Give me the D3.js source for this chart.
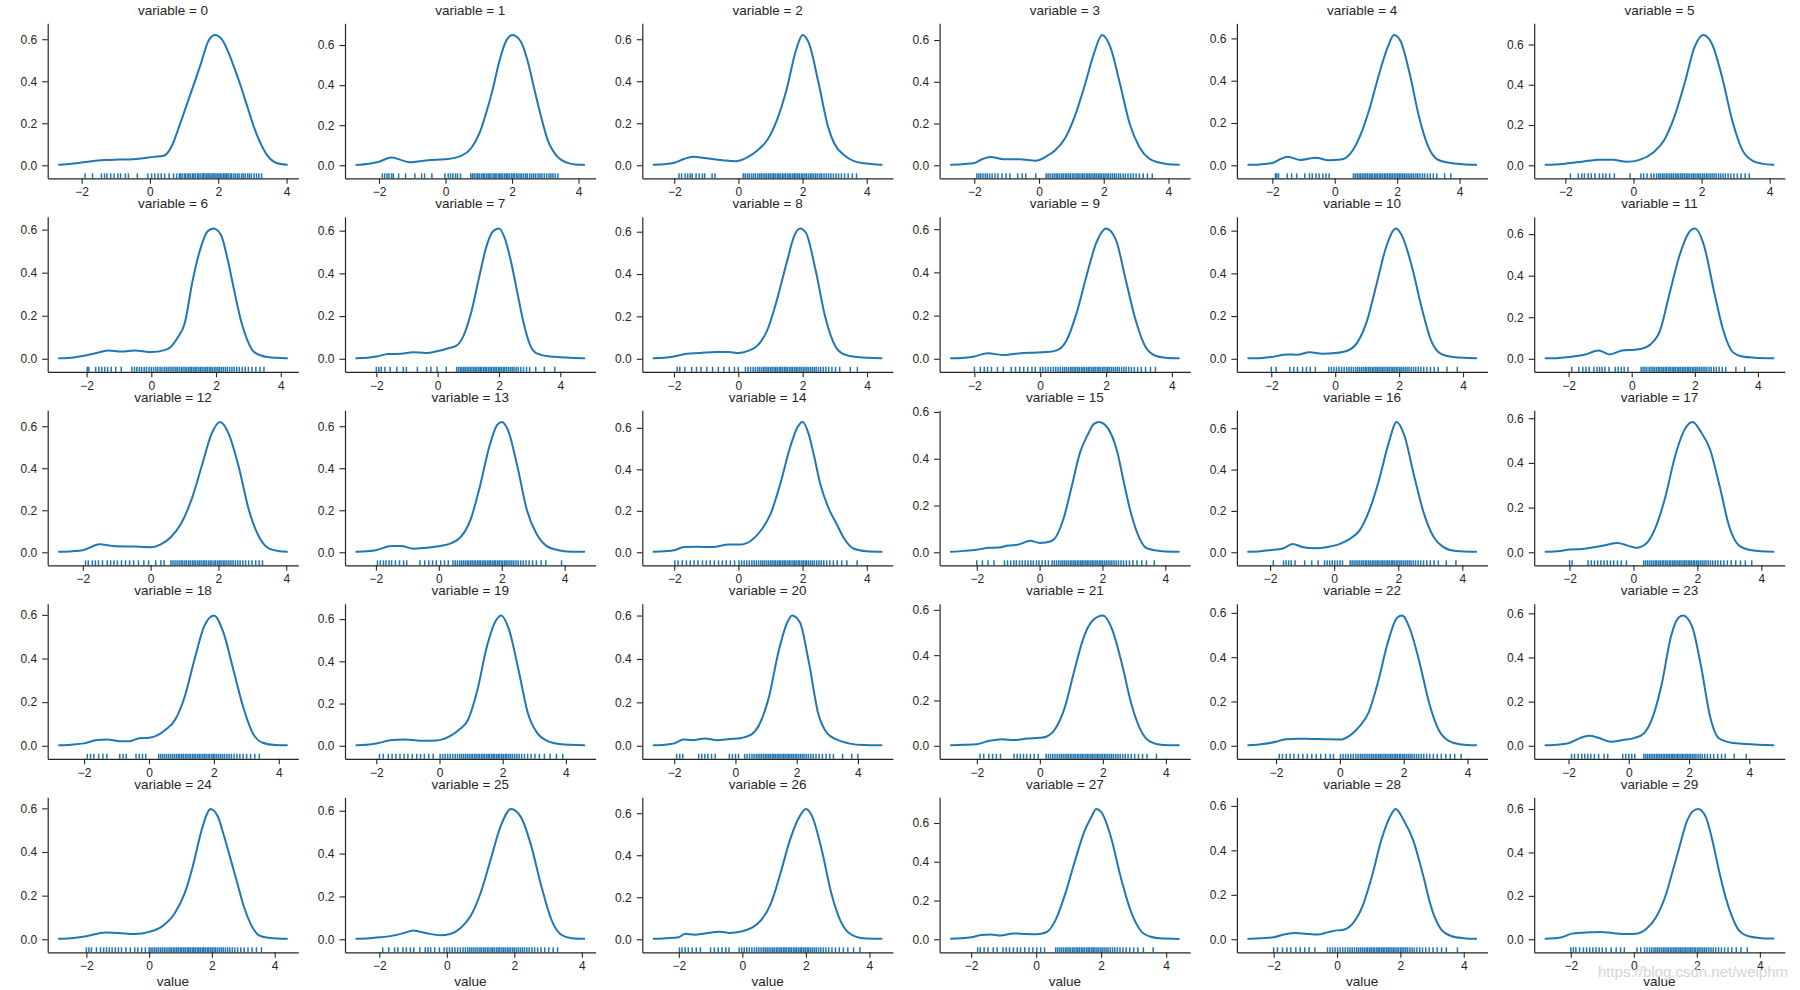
<!DOCTYPE html>
<html><head><meta charset="utf-8">
<script src="https://cdn.jsdelivr.net/npm/d3@7"></script>
<style>
body{margin:0;background:#fff}
svg text{font-family:"Liberation Sans",Arial,sans-serif}
</style></head>
<body><svg id="chart" width="1800" height="990"></svg>
<script>
const variableIds = [0,1,2,3,4,5,6,7,8,9,10,11,12,13,14,15,16,17,18,19,20,21,22,23,24,25,26,27,28,29];
const xTickValues = [-2,0,2,4];
const yTickValues = [0,0.2,0.4,0.6];

// KDE curves: [value, density]
const densityCurves = [
[[-2.66,0.003],[-2.3,0.007],[-2,0.013],[-1.6,0.021],[-1.3,0.025],[-0.9,0.027],[-0.5,0.029],[-0.2,0.034],[0.1,0.04],[0.4,0.045],[0.63,0.088],[0.82,0.168],[1.06,0.28],[1.3,0.392],[1.5,0.488],[1.69,0.584],[1.9,0.62],[2.1,0.6],[2.27,0.548],[2.46,0.468],[2.66,0.376],[2.85,0.28],[3.04,0.184],[3.24,0.104],[3.43,0.048],[3.72,0.01],[4.01,0.003]],
[[-2.68,0.002],[-2.3,0.008],[-2,0.018],[-1.63,0.039],[-1.35,0.027],[-1.08,0.015],[-0.8,0.02],[-0.53,0.025],[0,0.03],[0.47,0.047],[0.77,0.085],[1.02,0.16],[1.22,0.26],[1.42,0.38],[1.62,0.52],[1.82,0.62],[2.02,0.65],[2.27,0.615],[2.47,0.52],[2.67,0.38],[2.87,0.245],[3.07,0.127],[3.37,0.042],[3.67,0.012],[3.9,0.004],[4.17,0.002]],
[[-2.64,0.002],[-2.3,0.005],[-2,0.012],[-1.7,0.03],[-1.4,0.04],[-1,0.033],[-0.5,0.024],[-0.1,0.019],[0.3,0.04],[0.6,0.072],[0.9,0.12],[1.2,0.215],[1.5,0.36],[1.8,0.55],[2.0,0.62],[2.2,0.58],[2.5,0.39],[2.8,0.18],[3.0,0.1],[3.3,0.048],[3.6,0.02],[4.0,0.008],[4.46,0.002]],
[[-2.72,0.002],[-2.3,0.006],[-2,0.011],[-1.75,0.03],[-1.5,0.04],[-1.1,0.029],[-0.6,0.029],[-0.1,0.022],[0.2,0.04],[0.5,0.072],[0.8,0.128],[1.1,0.232],[1.4,0.376],[1.7,0.536],[1.95,0.624],[2.2,0.568],[2.5,0.392],[2.8,0.2],[3.1,0.088],[3.4,0.032],[3.7,0.013],[4.0,0.005],[4.32,0.002]],
[[-2.77,0.002],[-2.4,0.004],[-2,0.011],[-1.7,0.032],[-1.5,0.04],[-1.1,0.025],[-0.6,0.036],[-0.2,0.024],[0.2,0.027],[0.5,0.055],[0.8,0.134],[1.1,0.26],[1.4,0.42],[1.7,0.56],[1.9,0.616],[2.1,0.59],[2.4,0.434],[2.7,0.23],[3.0,0.087],[3.3,0.027],[3.7,0.011],[4.1,0.005],[4.53,0.002]],
[[-2.58,0.002],[-2.3,0.004],[-2,0.008],[-1.5,0.018],[-1.0,0.028],[-0.6,0.027],[-0.2,0.017],[0.2,0.028],[0.6,0.066],[0.9,0.124],[1.2,0.24],[1.5,0.406],[1.8,0.589],[2.05,0.647],[2.3,0.605],[2.6,0.44],[2.9,0.224],[3.2,0.075],[3.5,0.022],[3.8,0.007],[4.11,0.002]],
[[-2.85,0.002],[-2.4,0.006],[-2,0.016],[-1.6,0.03],[-1.33,0.039],[-0.92,0.034],[-0.51,0.039],[0,0.031],[0.41,0.04],[0.6,0.055],[0.8,0.095],[1.03,0.164],[1.28,0.366],[1.54,0.522],[1.74,0.592],[1.92,0.605],[2.15,0.576],[2.36,0.46],[2.56,0.318],[2.77,0.178],[2.97,0.086],[3.18,0.031],[3.59,0.008],[4.19,0.002]],
[[-2.65,0.002],[-2.3,0.005],[-2,0.011],[-1.6,0.022],[-1.2,0.023],[-0.8,0.031],[-0.4,0.027],[0,0.036],[0.3,0.047],[0.6,0.06],[0.85,0.11],[1.1,0.22],[1.35,0.38],[1.6,0.53],[1.8,0.596],[2.0,0.61],[2.2,0.56],[2.4,0.45],[2.6,0.31],[2.8,0.17],[3.0,0.07],[3.2,0.028],[3.6,0.012],[4.2,0.006],[4.78,0.002]],
[[-2.63,0.002],[-2.3,0.005],[-2,0.011],[-1.6,0.024],[-1.2,0.027],[-0.7,0.032],[-0.3,0.032],[0,0.027],[0.3,0.037],[0.6,0.063],[0.9,0.135],[1.2,0.278],[1.5,0.452],[1.75,0.585],[1.92,0.615],[2.1,0.595],[2.4,0.42],[2.7,0.198],[3.0,0.063],[3.3,0.02],[3.7,0.008],[4.45,0.002]],
[[-2.71,0.002],[-2.3,0.005],[-2,0.011],[-1.6,0.026],[-1.1,0.017],[-0.6,0.026],[-0.2,0.028],[0.2,0.031],[0.5,0.039],[0.8,0.085],[1.1,0.209],[1.4,0.38],[1.7,0.535],[2.0,0.603],[2.3,0.55],[2.6,0.364],[2.9,0.178],[3.2,0.054],[3.5,0.014],[3.8,0.005],[4.21,0.002]],
[[-2.72,0.002],[-2.3,0.004],[-2,0.008],[-1.5,0.02],[-1.2,0.019],[-0.8,0.031],[-0.4,0.024],[0,0.027],[0.4,0.039],[0.7,0.078],[1.0,0.18],[1.3,0.353],[1.6,0.526],[1.9,0.61],[2.1,0.573],[2.4,0.432],[2.7,0.243],[3.0,0.086],[3.3,0.024],[3.7,0.008],[4.41,0.002]],
[[-2.73,0.002],[-2.3,0.004],[-2,0.008],[-1.5,0.019],[-1.05,0.04],[-0.7,0.021],[-0.3,0.04],[0.1,0.044],[0.3,0.048],[0.6,0.07],[0.9,0.137],[1.2,0.315],[1.5,0.49],[1.8,0.605],[2.0,0.627],[2.3,0.54],[2.6,0.33],[2.9,0.137],[3.2,0.032],[3.5,0.011],[3.9,0.005],[4.49,0.002]],
[[-2.7,0.002],[-2.3,0.005],[-2,0.01],[-1.5,0.038],[-1.1,0.03],[-0.5,0.027],[0,0.024],[0.3,0.038],[0.6,0.073],[0.9,0.137],[1.2,0.248],[1.5,0.406],[1.8,0.565],[2.05,0.62],[2.3,0.565],[2.6,0.406],[2.9,0.2],[3.2,0.073],[3.5,0.017],[3.8,0.005],[4.02,0.002]],
[[-2.62,0.002],[-2.3,0.005],[-2,0.01],[-1.5,0.03],[-1.2,0.03],[-0.8,0.017],[-0.4,0.022],[0,0.029],[0.4,0.044],[0.7,0.073],[1.0,0.152],[1.3,0.31],[1.6,0.5],[1.85,0.605],[2.0,0.62],[2.2,0.58],[2.5,0.406],[2.8,0.2],[3.1,0.089],[3.4,0.033],[3.8,0.01],[4.2,0.003],[4.62,0.002]],
[[-2.64,0.002],[-2.3,0.005],[-2,0.01],[-1.7,0.025],[-1.3,0.027],[-0.8,0.025],[-0.3,0.038],[0.1,0.038],[0.4,0.057],[0.7,0.105],[1.0,0.184],[1.3,0.327],[1.6,0.5],[1.85,0.605],[2.0,0.628],[2.2,0.565],[2.35,0.47],[2.55,0.33],[2.8,0.216],[3.05,0.14],[3.3,0.065],[3.6,0.017],[4.0,0.005],[4.46,0.002]],
[[-2.82,0.002],[-2.4,0.006],[-2,0.011],[-1.6,0.019],[-1.3,0.02],[-1.0,0.029],[-0.7,0.032],[-0.3,0.049],[0,0.04],[0.2,0.042],[0.44,0.053],[0.75,0.139],[1.02,0.28],[1.28,0.424],[1.54,0.505],[1.72,0.548],[1.9,0.557],[2.08,0.545],[2.26,0.51],[2.47,0.43],[2.68,0.3],[2.89,0.176],[3.1,0.085],[3.41,0.017],[3.9,0.004],[4.43,0.002]],
[[-2.68,0.002],[-2.3,0.005],[-2,0.01],[-1.6,0.018],[-1.3,0.04],[-1.0,0.026],[-0.6,0.02],[-0.2,0.026],[0.2,0.042],[0.5,0.066],[0.8,0.107],[1.1,0.204],[1.4,0.35],[1.7,0.528],[1.95,0.63],[2.2,0.56],[2.5,0.366],[2.8,0.188],[3.1,0.075],[3.4,0.026],[3.8,0.006],[4.43,0.002]],
[[-2.75,0.002],[-2.3,0.006],[-2,0.012],[-1.6,0.015],[-1.3,0.021],[-0.9,0.031],[-0.5,0.042],[-0.2,0.031],[0.1,0.02],[0.4,0.039],[0.7,0.114],[1.0,0.249],[1.3,0.429],[1.6,0.549],[1.85,0.583],[2.1,0.541],[2.4,0.459],[2.7,0.294],[3.0,0.114],[3.3,0.031],[3.7,0.009],[4.38,0.002]],
[[-2.77,0.002],[-2.4,0.005],[-2,0.011],[-1.6,0.026],[-1.3,0.029],[-0.9,0.021],[-0.6,0.021],[-0.3,0.035],[0,0.037],[0.2,0.044],[0.5,0.072],[0.8,0.118],[1.1,0.225],[1.4,0.394],[1.7,0.547],[2.0,0.597],[2.3,0.516],[2.6,0.348],[2.9,0.179],[3.2,0.057],[3.5,0.014],[3.9,0.003],[4.25,0.002]],
[[-2.63,0.002],[-2.3,0.005],[-2,0.011],[-1.5,0.027],[-1.1,0.03],[-0.6,0.024],[-0.1,0.025],[0.3,0.043],[0.6,0.074],[0.9,0.122],[1.2,0.264],[1.5,0.47],[1.8,0.597],[1.95,0.617],[2.2,0.55],[2.5,0.36],[2.8,0.153],[3.1,0.059],[3.4,0.024],[3.8,0.008],[4.58,0.002]],
[[-2.67,0.002],[-2.3,0.005],[-2,0.011],[-1.7,0.029],[-1.4,0.026],[-1.0,0.034],[-0.6,0.026],[-0.2,0.031],[0.2,0.036],[0.5,0.05],[0.8,0.104],[1.1,0.228],[1.4,0.43],[1.7,0.57],[1.85,0.6],[2.1,0.57],[2.4,0.383],[2.7,0.15],[3.0,0.057],[3.3,0.029],[3.7,0.011],[4.2,0.003],[4.77,0.002]],
[[-2.82,0.002],[-2.4,0.004],[-2,0.007],[-1.6,0.022],[-1.2,0.029],[-0.8,0.025],[-0.4,0.032],[0,0.035],[0.2,0.04],[0.5,0.077],[0.8,0.173],[1.1,0.335],[1.4,0.482],[1.7,0.556],[2.0,0.575],[2.3,0.512],[2.6,0.364],[2.9,0.187],[3.2,0.069],[3.5,0.018],[3.9,0.003],[4.41,0.002]],
[[-2.87,0.002],[-2.4,0.008],[-2,0.018],[-1.7,0.03],[-1.3,0.032],[-0.9,0.031],[-0.5,0.03],[0,0.028],[0.3,0.045],[0.6,0.085],[0.9,0.15],[1.2,0.29],[1.5,0.465],[1.8,0.579],[1.95,0.588],[2.2,0.526],[2.5,0.374],[2.8,0.192],[3.1,0.071],[3.4,0.023],[3.8,0.006],[4.27,0.002]],
[[-2.76,0.002],[-2.3,0.006],[-2,0.011],[-1.6,0.036],[-1.3,0.045],[-1.0,0.036],[-0.6,0.018],[-0.2,0.026],[0.2,0.036],[0.5,0.056],[0.8,0.132],[1.1,0.283],[1.4,0.495],[1.65,0.58],[1.8,0.59],[2.1,0.541],[2.4,0.359],[2.7,0.132],[3.0,0.033],[3.4,0.014],[3.9,0.008],[4.8,0.002]],
[[-2.87,0.002],[-2.4,0.006],[-2,0.014],[-1.4,0.031],[-0.98,0.029],[-0.45,0.024],[0,0.034],[0.39,0.057],[0.81,0.118],[1.13,0.21],[1.39,0.334],[1.65,0.488],[1.86,0.58],[1.95,0.597],[2.18,0.565],[2.39,0.472],[2.6,0.365],[2.81,0.257],[3.02,0.149],[3.23,0.072],[3.5,0.018],[3.86,0.006],[4.39,0.002]],
[[-2.68,0.002],[-2.3,0.005],[-2,0.009],[-1.6,0.017],[-1.3,0.028],[-1.0,0.041],[-0.6,0.028],[-0.2,0.019],[0.1,0.025],[0.4,0.052],[0.7,0.107],[1.0,0.216],[1.3,0.373],[1.6,0.53],[1.9,0.608],[2.2,0.569],[2.5,0.436],[2.8,0.248],[3.1,0.091],[3.4,0.02],[3.7,0.005],[4.07,0.002]],
[[-2.79,0.002],[-2.4,0.005],[-2,0.01],[-1.8,0.026],[-1.5,0.022],[-1.2,0.027],[-0.7,0.036],[-0.4,0.03],[0,0.038],[0.3,0.055],[0.6,0.092],[0.9,0.171],[1.2,0.314],[1.5,0.473],[1.8,0.584],[2.0,0.62],[2.2,0.584],[2.5,0.425],[2.8,0.219],[3.1,0.084],[3.4,0.025],[3.8,0.005],[4.38,0.002]],
[[-2.62,0.003],[-2.3,0.005],[-2,0.01],[-1.7,0.022],[-1.4,0.025],[-1.1,0.019],[-0.7,0.03],[-0.3,0.027],[0,0.026],[0.3,0.035],[0.6,0.1],[0.9,0.237],[1.2,0.408],[1.5,0.563],[1.7,0.631],[1.85,0.672],[2.0,0.657],[2.3,0.528],[2.6,0.322],[2.9,0.151],[3.2,0.048],[3.5,0.014],[3.8,0.005],[4.39,0.002]],
[[-2.8,0.002],[-2.4,0.005],[-2,0.009],[-1.6,0.024],[-1.3,0.028],[-1.0,0.025],[-0.6,0.021],[-0.3,0.031],[0,0.04],[0.2,0.043],[0.5,0.072],[0.8,0.147],[1.1,0.282],[1.4,0.447],[1.7,0.559],[1.85,0.586],[2.1,0.537],[2.4,0.447],[2.7,0.297],[3.0,0.132],[3.3,0.042],[3.6,0.015],[4.0,0.005],[4.39,0.002]],
[[-2.8,0.002],[-2.32,0.008],[-1.96,0.026],[-1.38,0.032],[-1.07,0.034],[-0.65,0.028],[-0.23,0.024],[0.08,0.026],[0.4,0.049],[0.71,0.103],[1.03,0.211],[1.24,0.318],[1.45,0.426],[1.66,0.534],[1.86,0.588],[2.04,0.6],[2.28,0.565],[2.49,0.457],[2.7,0.318],[2.91,0.195],[3.12,0.103],[3.33,0.042],[3.64,0.014],[4.06,0.005],[4.43,0.003]]
];

// rug observations read (approximately) from the picture
const rugValues = [
[-1.9,-1.68,-1.42,-1.33,-1.26,-1.15,-1.05,-0.94,-0.86,-0.72,-0.63,-0.37,-0.06,0.05,0.14,0.24,0.33,0.43,0.56,0.69,0.78,0.86,0.9,0.95,1.01,1.04,1.1,1.14,1.19,1.25,1.28,1.33,1.39,1.42,1.47,1.53,1.56,1.61,1.66,1.7,1.74,1.79,1.84,1.88,1.93,1.97,2.02,2.06,2.11,2.16,2.2,2.25,2.29,2.35,2.39,2.45,2.5,2.56,2.61,2.68,2.73,2.79,2.86,2.91,2.97,3.05,3.12,3.19,3.27],
[-1.9,-1.83,-1.76,-1.7,-1.62,-1.57,-1.41,-1.2,-0.92,-0.72,-0.63,-0.41,-0.02,0.08,0.15,0.22,0.3,0.36,0.45,0.76,0.81,0.86,0.92,0.97,1.02,1.08,1.13,1.17,1.23,1.28,1.32,1.37,1.43,1.48,1.52,1.58,1.63,1.67,1.72,1.78,1.83,1.87,1.92,1.98,2.03,2.07,2.13,2.18,2.24,2.29,2.35,2.41,2.46,2.53,2.59,2.65,2.71,2.78,2.84,2.9,2.97,3.04,3.11,3.17,3.23,3.3,3.38],
[-1.85,-1.77,-1.66,-1.58,-1.5,-1.44,-1.32,-1.22,-1.12,-1.05,-0.82,-0.73,0.15,0.21,0.28,0.34,0.41,0.47,0.53,0.6,0.66,0.71,0.77,0.83,0.88,0.94,0.99,1.05,1.1,1.15,1.21,1.26,1.31,1.37,1.42,1.47,1.53,1.58,1.63,1.69,1.74,1.79,1.85,1.9,1.96,2.01,2.07,2.12,2.18,2.24,2.29,2.35,2.41,2.47,2.54,2.6,2.67,2.74,2.81,2.88,2.96,3.04,3.12,3.21,3.31,3.42,3.55,3.68],
[-1.92,-1.86,-1.8,-1.73,-1.66,-1.6,-1.53,-1.45,-1.36,-1.27,-1.14,-1.02,-0.9,-0.66,-0.52,-0.41,-0.1,0.22,0.28,0.34,0.41,0.47,0.53,0.58,0.64,0.7,0.75,0.81,0.86,0.92,0.97,1.03,1.08,1.14,1.19,1.24,1.3,1.35,1.4,1.46,1.51,1.56,1.61,1.67,1.72,1.77,1.83,1.88,1.93,1.99,2.04,2.1,2.15,2.21,2.27,2.33,2.39,2.46,2.52,2.6,2.67,2.75,2.83,2.91,3.0,3.1,3.22,3.35,3.5],
[-1.9,-1.86,-1.8,-1.52,-1.38,-1.22,-0.96,-0.81,-0.72,-0.6,-0.5,-0.38,-0.28,-0.18,0.6,0.66,0.72,0.78,0.83,0.89,0.94,1.0,1.05,1.11,1.16,1.21,1.27,1.32,1.37,1.43,1.48,1.53,1.59,1.64,1.69,1.75,1.8,1.85,1.91,1.96,2.02,2.07,2.12,2.18,2.23,2.29,2.35,2.41,2.47,2.53,2.6,2.66,2.73,2.81,2.88,2.97,3.06,3.16,3.27,3.52,3.72],
[-1.85,-1.62,-1.52,-1.44,-1.33,-1.24,-1.13,-1.0,-0.9,-0.81,-0.7,-0.56,-0.1,0.22,0.3,0.4,0.52,0.6,0.68,0.74,0.79,0.85,0.9,0.96,1.01,1.07,1.12,1.17,1.23,1.28,1.33,1.39,1.44,1.49,1.55,1.6,1.65,1.71,1.76,1.81,1.87,1.92,1.97,2.03,2.08,2.14,2.19,2.25,2.31,2.37,2.43,2.5,2.56,2.63,2.7,2.78,2.86,2.95,3.05,3.16,3.28,3.4],
[-1.98,-1.93,-1.72,-1.62,-1.53,-1.44,-1.35,-1.24,-1.1,-0.93,-0.6,-0.52,-0.45,-0.37,-0.3,-0.22,-0.15,-0.07,0.0,0.07,0.14,0.2,0.27,0.33,0.4,0.46,0.52,0.58,0.64,0.7,0.76,0.81,0.87,0.93,0.98,1.04,1.09,1.15,1.2,1.25,1.31,1.36,1.41,1.47,1.52,1.57,1.63,1.68,1.73,1.79,1.84,1.89,1.95,2.0,2.06,2.11,2.17,2.23,2.29,2.35,2.42,2.49,2.56,2.64,2.72,2.81,2.9,3.0,3.11,3.23,3.36,3.48],
[-2.0,-1.92,-1.84,-1.72,-1.55,-1.33,-1.12,-1.02,-0.66,-0.36,-0.22,-0.02,0.28,0.62,0.68,0.74,0.79,0.85,0.9,0.96,1.01,1.07,1.12,1.18,1.23,1.28,1.34,1.39,1.44,1.5,1.55,1.6,1.66,1.71,1.76,1.82,1.87,1.92,1.98,2.03,2.08,2.14,2.19,2.25,2.31,2.37,2.43,2.49,2.56,2.63,2.71,2.8,2.9,3.0,3.2,3.48,3.82],
[-1.9,-1.82,-1.66,-1.45,-1.3,-1.16,-0.98,-0.8,-0.62,-0.45,-0.28,-0.12,0.0,0.22,0.3,0.38,0.46,0.53,0.6,0.66,0.72,0.78,0.83,0.89,0.94,1.0,1.05,1.11,1.16,1.21,1.27,1.32,1.37,1.43,1.48,1.53,1.59,1.64,1.69,1.75,1.8,1.85,1.91,1.96,2.02,2.07,2.13,2.18,2.24,2.3,2.36,2.42,2.49,2.56,2.64,2.72,2.81,2.91,3.02,3.15,3.48,3.7],
[-2.0,-1.82,-1.7,-1.6,-1.48,-1.3,-1.12,-0.88,-0.75,-0.62,-0.5,-0.38,-0.25,-0.15,0.0,0.08,0.16,0.24,0.32,0.4,0.47,0.54,0.61,0.68,0.74,0.8,0.86,0.92,0.97,1.03,1.08,1.14,1.19,1.25,1.3,1.35,1.41,1.46,1.51,1.57,1.62,1.67,1.73,1.78,1.83,1.89,1.94,2.0,2.05,2.1,2.16,2.22,2.28,2.34,2.4,2.47,2.54,2.61,2.69,2.77,2.86,2.96,3.07,3.2,3.35,3.5],
[-2.0,-1.85,-1.42,-1.3,-1.18,-1.02,-0.9,-0.78,-0.62,-0.2,-0.12,-0.04,0.04,0.12,0.2,0.28,0.36,0.43,0.5,0.57,0.64,0.7,0.76,0.82,0.88,0.94,0.99,1.05,1.1,1.16,1.21,1.27,1.32,1.37,1.43,1.48,1.53,1.59,1.64,1.69,1.75,1.8,1.85,1.91,1.96,2.02,2.07,2.13,2.19,2.25,2.31,2.38,2.45,2.52,2.6,2.68,2.77,2.87,2.98,3.1,3.22,3.5,3.82],
[-1.9,-1.68,-1.55,-1.45,-1.35,-1.2,-1.1,-1.02,-0.94,-0.85,-0.72,-0.52,-0.43,-0.33,-0.24,-0.12,0.3,0.36,0.42,0.48,0.55,0.61,0.67,0.72,0.78,0.84,0.89,0.95,1.0,1.06,1.11,1.17,1.22,1.28,1.33,1.38,1.44,1.49,1.54,1.6,1.65,1.7,1.76,1.81,1.86,1.92,1.97,2.03,2.08,2.14,2.2,2.26,2.32,2.38,2.45,2.52,2.6,2.68,2.77,2.87,2.98,3.3,3.58],
[-1.92,-1.84,-1.72,-1.63,-1.54,-1.42,-1.28,-1.18,-1.08,-0.98,-0.86,-0.74,-0.62,-0.5,-0.36,-0.2,-0.06,0.15,0.3,0.4,0.6,0.66,0.72,0.78,0.84,0.9,0.95,1.01,1.06,1.12,1.17,1.23,1.28,1.33,1.39,1.44,1.49,1.55,1.6,1.65,1.71,1.76,1.81,1.87,1.92,1.98,2.03,2.08,2.14,2.19,2.25,2.31,2.37,2.43,2.5,2.57,2.64,2.72,2.8,2.89,2.99,3.1,3.2,3.3],
[-1.95,-1.86,-1.76,-1.68,-1.58,-1.5,-1.38,-1.25,-1.12,-1.02,-0.6,-0.45,-0.32,-0.2,-0.08,0.06,0.18,0.3,0.45,0.52,0.59,0.66,0.72,0.78,0.84,0.9,0.95,1.01,1.06,1.12,1.17,1.23,1.28,1.33,1.39,1.44,1.49,1.55,1.6,1.65,1.71,1.76,1.81,1.87,1.92,1.98,2.03,2.09,2.14,2.2,2.26,2.32,2.38,2.45,2.52,2.6,2.68,2.77,2.87,2.98,3.1,3.25,3.4,3.9],
[-1.98,-1.88,-1.75,-1.62,-1.5,-1.38,-1.26,-1.12,-1.0,-0.88,-0.75,-0.62,-0.5,-0.38,-0.25,-0.12,0.02,0.1,0.18,0.26,0.34,0.42,0.49,0.56,0.63,0.7,0.76,0.82,0.88,0.94,1.0,1.05,1.11,1.16,1.22,1.27,1.32,1.38,1.43,1.48,1.54,1.59,1.64,1.7,1.75,1.8,1.86,1.91,1.97,2.02,2.08,2.13,2.19,2.25,2.31,2.37,2.44,2.51,2.58,2.66,2.75,2.85,2.96,3.08,3.22,3.38,3.7],
[-2.0,-1.82,-1.64,-1.45,-1.12,-1.02,-0.92,-0.82,-0.74,-0.64,-0.55,-0.46,-0.37,-0.28,-0.2,-0.1,-0.02,0.08,0.18,0.28,0.4,0.47,0.54,0.61,0.68,0.74,0.8,0.86,0.92,0.98,1.03,1.09,1.14,1.2,1.25,1.31,1.36,1.41,1.47,1.52,1.57,1.63,1.68,1.73,1.79,1.84,1.9,1.95,2.0,2.06,2.12,2.18,2.24,2.3,2.37,2.44,2.51,2.59,2.67,2.76,2.86,2.97,3.1,3.25,3.4,3.65],
[-1.9,-1.58,-1.5,-1.42,-1.34,-1.22,-0.92,-0.7,-0.5,-0.3,-0.22,-0.14,-0.06,0.02,0.1,0.18,0.26,0.5,0.56,0.62,0.68,0.74,0.8,0.86,0.91,0.97,1.02,1.08,1.13,1.19,1.24,1.3,1.35,1.4,1.46,1.51,1.56,1.62,1.67,1.72,1.78,1.83,1.88,1.94,1.99,2.05,2.1,2.16,2.22,2.28,2.34,2.4,2.47,2.54,2.62,2.7,2.79,2.89,3.0,3.12,3.25,3.5,3.8],
[-2.0,-1.92,-1.42,-1.32,-1.22,-1.12,-1.02,-0.92,-0.82,-0.72,-0.62,-0.5,-0.38,-0.22,0.32,0.38,0.44,0.5,0.56,0.62,0.68,0.73,0.79,0.84,0.9,0.95,1.01,1.06,1.12,1.17,1.23,1.28,1.33,1.39,1.44,1.49,1.55,1.6,1.65,1.71,1.76,1.81,1.87,1.92,1.98,2.03,2.09,2.15,2.21,2.27,2.34,2.41,2.48,2.56,2.64,2.73,2.83,2.94,3.06,3.2,3.35,3.5,3.7],
[-1.9,-1.8,-1.7,-1.55,-1.42,-1.3,-0.9,-0.8,-0.7,-0.4,-0.3,-0.2,-0.1,0.3,0.36,0.42,0.48,0.54,0.6,0.66,0.72,0.78,0.84,0.9,0.95,1.01,1.06,1.12,1.17,1.23,1.28,1.34,1.39,1.44,1.5,1.55,1.6,1.66,1.71,1.76,1.82,1.87,1.93,1.98,2.03,2.09,2.15,2.21,2.27,2.33,2.4,2.47,2.54,2.62,2.71,2.8,2.9,3.01,3.13,3.26,3.4],
[-1.9,-1.78,-1.62,-1.5,-1.38,-1.25,-1.12,-1.0,-0.86,-0.72,-0.6,-0.48,-0.34,-0.2,0.02,0.1,0.18,0.26,0.34,0.42,0.5,0.57,0.64,0.7,0.76,0.82,0.88,0.94,1.0,1.05,1.11,1.16,1.22,1.27,1.33,1.38,1.43,1.49,1.54,1.59,1.65,1.7,1.75,1.81,1.86,1.91,1.97,2.02,2.08,2.13,2.19,2.25,2.31,2.38,2.45,2.52,2.6,2.69,2.79,2.9,3.02,3.16,3.32,3.5,3.7,3.9],
[-1.92,-1.82,-1.72,-1.2,-1.1,-1.0,-0.9,-0.78,-0.66,-0.2,-0.1,0.0,0.1,0.3,0.38,0.46,0.54,0.61,0.68,0.74,0.8,0.86,0.92,0.98,1.03,1.09,1.14,1.2,1.25,1.3,1.36,1.41,1.46,1.52,1.57,1.62,1.68,1.73,1.78,1.84,1.89,1.95,2.0,2.06,2.12,2.18,2.24,2.31,2.38,2.46,2.54,2.63,2.73,2.84,2.96,3.08,3.2,3.5,3.8,4.0],
[-1.9,-1.78,-1.62,-1.5,-1.38,-1.25,-0.82,-0.72,-0.62,-0.52,-0.42,-0.3,-0.18,-0.05,0.2,0.27,0.34,0.41,0.48,0.55,0.62,0.68,0.74,0.8,0.86,0.91,0.97,1.02,1.08,1.13,1.19,1.24,1.3,1.35,1.4,1.46,1.51,1.56,1.62,1.67,1.72,1.78,1.83,1.88,1.94,1.99,2.05,2.1,2.16,2.22,2.28,2.34,2.41,2.48,2.55,2.63,2.71,2.8,2.9,3.01,3.13,3.26,3.4,3.7],
[-1.9,-1.8,-1.68,-1.56,-1.44,-1.3,-1.16,-1.02,-0.88,-0.74,-0.6,-0.45,-0.3,-0.2,0.02,0.1,0.18,0.26,0.34,0.42,0.5,0.57,0.64,0.7,0.76,0.82,0.88,0.94,1.0,1.05,1.11,1.16,1.22,1.27,1.32,1.38,1.43,1.48,1.54,1.59,1.64,1.7,1.75,1.8,1.86,1.91,1.97,2.02,2.08,2.14,2.2,2.26,2.33,2.4,2.47,2.55,2.63,2.72,2.82,2.93,3.05,3.18,3.32,3.46,3.6,3.8],
[-1.9,-1.8,-1.68,-1.56,-1.46,-1.36,-1.26,-1.14,-1.0,-0.82,-0.7,-0.2,-0.1,0.0,0.1,0.2,0.5,0.56,0.62,0.68,0.74,0.8,0.86,0.92,0.97,1.03,1.08,1.14,1.19,1.25,1.3,1.35,1.41,1.46,1.51,1.57,1.62,1.67,1.73,1.78,1.83,1.89,1.94,2.0,2.05,2.11,2.17,2.23,2.3,2.37,2.44,2.52,2.61,2.71,2.82,2.95,3.08,3.2,3.5,3.9],
[-2.0,-1.92,-1.84,-1.68,-1.55,-1.45,-1.36,-1.27,-1.18,-1.08,-0.98,-0.88,-0.74,-0.6,-0.46,-0.36,-0.24,-0.12,0.0,0.06,0.12,0.18,0.24,0.3,0.36,0.42,0.48,0.54,0.6,0.66,0.71,0.77,0.82,0.88,0.93,0.99,1.04,1.1,1.15,1.21,1.26,1.31,1.37,1.42,1.47,1.53,1.58,1.63,1.69,1.74,1.79,1.85,1.9,1.96,2.01,2.07,2.12,2.18,2.24,2.3,2.36,2.43,2.5,2.57,2.65,2.73,2.82,2.92,3.03,3.15,3.28,3.42,3.58],
[-1.9,-1.72,-1.55,-1.45,-1.3,-1.2,-1.08,-0.98,-0.8,-0.64,-0.56,-0.48,-0.36,-0.22,-0.08,0.0,0.08,0.16,0.24,0.32,0.4,0.48,0.55,0.62,0.68,0.74,0.8,0.86,0.92,0.98,1.03,1.09,1.14,1.2,1.25,1.31,1.36,1.41,1.47,1.52,1.57,1.63,1.68,1.73,1.79,1.84,1.89,1.95,2.0,2.06,2.12,2.18,2.24,2.3,2.37,2.44,2.52,2.6,2.69,2.79,2.9,3.02,3.15,3.28],
[-1.98,-1.9,-1.8,-1.7,-1.58,-1.45,-1.32,-1.0,-0.88,-0.76,-0.64,-0.52,-0.42,-0.1,-0.02,0.06,0.14,0.22,0.3,0.38,0.45,0.52,0.59,0.66,0.72,0.78,0.84,0.9,0.96,1.01,1.07,1.12,1.18,1.23,1.29,1.34,1.39,1.45,1.5,1.55,1.61,1.66,1.71,1.77,1.82,1.87,1.93,1.98,2.04,2.09,2.15,2.21,2.27,2.33,2.4,2.47,2.55,2.63,2.72,2.82,2.93,3.05,3.18,3.32,3.5,3.7],
[-1.8,-1.72,-1.6,-1.48,-1.32,-1.2,-1.02,-0.92,-0.82,-0.7,-0.58,-0.48,-0.35,-0.22,-0.1,0.02,0.14,0.26,0.6,0.66,0.72,0.78,0.84,0.9,0.95,1.01,1.06,1.12,1.17,1.23,1.28,1.33,1.39,1.44,1.49,1.55,1.6,1.65,1.71,1.76,1.81,1.87,1.92,1.98,2.03,2.09,2.15,2.21,2.28,2.35,2.42,2.5,2.58,2.67,2.77,2.88,3.0,3.13,3.3,3.6],
[-2.0,-1.88,-1.72,-1.58,-1.46,-1.3,-1.16,-1.02,-0.88,-0.7,-0.3,-0.22,-0.14,-0.06,0.02,0.1,0.18,0.26,0.34,0.41,0.48,0.55,0.62,0.68,0.74,0.8,0.86,0.92,0.97,1.03,1.08,1.14,1.19,1.25,1.3,1.35,1.41,1.46,1.51,1.57,1.62,1.67,1.73,1.78,1.83,1.89,1.94,2.0,2.05,2.11,2.17,2.23,2.3,2.37,2.44,2.52,2.61,2.7,2.8,2.91,3.03,3.16,3.3,3.45,3.8],
[-2.0,-1.92,-1.84,-1.72,-1.6,-1.5,-1.4,-1.3,-1.2,-1.1,-1.0,-0.88,-0.72,-0.56,-0.42,-0.3,0.1,0.22,0.34,0.42,0.5,0.57,0.64,0.7,0.76,0.82,0.88,0.94,0.99,1.05,1.1,1.16,1.21,1.27,1.32,1.37,1.43,1.48,1.53,1.59,1.64,1.69,1.75,1.8,1.85,1.91,1.96,2.02,2.07,2.13,2.19,2.25,2.31,2.38,2.45,2.52,2.6,2.69,2.78,2.88,2.99,3.11,3.25,3.4,3.6]
];

const xLabel = "value";
const watermarkText = "https://blog.csdn.net/weiphm";

const lineColor = "#1f77b4", inkColor = "#262626";
const nCols = 6;
const panelLeft = 47.7, panelStepX = 297.3, panelW = 250.6;
const panelTop = 23.3, panelStepY = 193.5, panelH = 155;
const nRows = Math.ceil(variableIds.length / nCols);

const svg = d3.select("#chart");
svg.append("rect").attr("width",1800).attr("height",990).attr("fill","#fff");

const minusFmt = d => (d < 0 ? "\u2212" + Math.abs(d) : String(d));

variableIds.forEach((vid, i) => {
  const col = i % nCols, row = Math.floor(i / nCols);
  const curve = densityCurves[i];
  const g = svg.append("g")
    .attr("transform", `translate(${panelLeft + col * panelStepX},${panelTop + row * panelStepY})`);

  const [xa, xb] = d3.extent(curve, d => d[0]);
  const span = xb - xa;
  const x = d3.scaleLinear().domain([xa - 0.05 * span, xb + 0.05 * span]).range([0, panelW]);
  const peak = d3.max(curve, d => d[1]);
  const y = d3.scaleLinear().domain([-0.1 * peak, 1.09 * peak]).range([panelH, 0]);

  // rug
  g.append("g").selectAll("line").data(rugValues[i]).join("line")
    .attr("x1", d => x(d)).attr("x2", d => x(d))
    .attr("y1", panelH).attr("y2", panelH - 5)
    .attr("stroke", lineColor).attr("stroke-width", 1.5);

  // density curve
  g.append("path").datum(curve)
    .attr("fill", "none").attr("stroke", lineColor).attr("stroke-width", 2)
    .attr("stroke-linejoin", "round").attr("stroke-linecap", "round")
    .attr("d", d3.line().x(d => x(d[0])).y(d => y(d[1])).curve(d3.curveMonotoneX));

  const xd = x.domain(), yd = y.domain();
  const xAxis = g.append("g").attr("transform", `translate(0,${panelH})`)
    .call(d3.axisBottom(x).tickValues(xTickValues.filter(t => t >= xd[0] && t <= xd[1]))
      .tickSize(5.5).tickSizeOuter(0).tickPadding(4).tickFormat(minusFmt));
  const yAxis = g.append("g")
    .call(d3.axisLeft(y).tickValues(yTickValues.filter(t => t >= yd[0] && t <= yd[1]))
      .tickSize(5.5).tickSizeOuter(0).tickPadding(5).tickFormat(d3.format(".1f")));
  [xAxis, yAxis].forEach(a => {
    a.select(".domain").attr("stroke", inkColor).attr("stroke-width", 1.2);
    a.selectAll(".tick line").attr("stroke", inkColor).attr("stroke-width", 1.1);
    a.selectAll(".tick text").attr("fill", inkColor).attr("font-size", 12)
      .attr("font-family", '"Liberation Sans", Arial, sans-serif');
  });

  g.append("text").attr("x", panelW / 2).attr("y", -8.5)
    .attr("text-anchor", "middle").attr("font-size", 13.5).attr("fill", inkColor)
    .text(`variable = ${vid}`);

  if (row === nRows - 1) {
    g.append("text").attr("x", panelW / 2).attr("y", panelH + 34)
      .attr("text-anchor", "middle").attr("font-size", 13.5).attr("fill", inkColor)
      .text(xLabel);
  }
});

svg.append("text").attr("x", 1788).attr("y", 977).attr("text-anchor", "end")
  .attr("font-size", 15).attr("fill", "#d4d4d4").text(watermarkText);
</script>
</body></html>
